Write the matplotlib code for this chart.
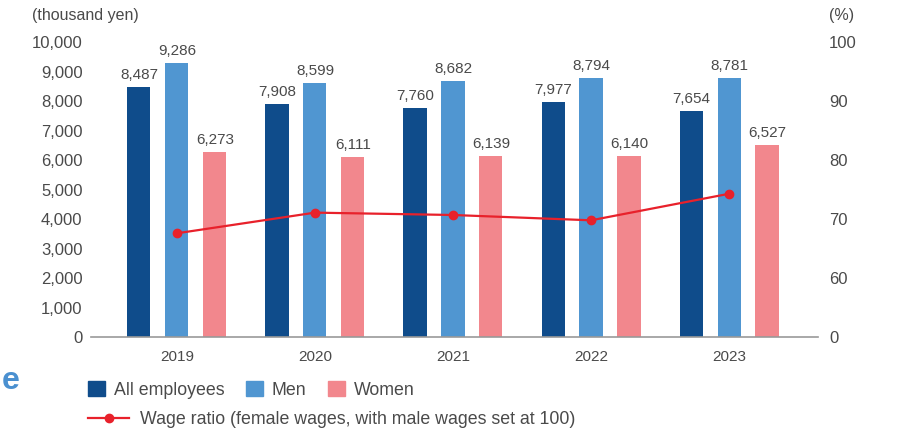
import matplotlib
matplotlib.use("Agg")
import matplotlib.pyplot as plt
from matplotlib.patches import Patch
from matplotlib.lines import Line2D
import numpy as np

years = ["2019", "2020", "2021", "2022", "2023"]
all_emp = [8487, 7908, 7760, 7977, 7654]
men = [9286, 8599, 8682, 8794, 8781]
women = [6273, 6111, 6139, 6140, 6527]
ratio = [67.6, 71.1, 70.7, 69.8, 74.3]
left_ticks = [0, 1000, 2000, 3000, 4000, 5000, 6000, 7000, 8000, 9000, 10000]
right_ticks = [50, 60, 70, 80, 90, 100]
right_labels = ["0", "60", "70", "80", "90", "100"]

c_all = "#0f4c8b"
c_men = "#5096d1"
c_women = "#f2878d"
c_line = "#e8212b"
txt = "#4a4a4a"

plt.rcParams['font.family'] = ['Liberation Sans', 'DejaVu Sans']

fig = plt.figure(figsize=(9, 4.3), dpi=100)
ax = fig.add_axes([0.101, 0.216, 0.808, 0.686])
x = np.arange(len(years))
w = 0.167
off = 0.275
series = [(all_emp, c_all, -off), (men, c_men, 0), (women, c_women, off)]
for vals, col, o in series:
    bars = ax.bar(x + o, vals, width=w, color=col, zorder=2)
    for b, v in zip(bars, vals):
        ax.text(b.get_x() + b.get_width() / 2, v + 170, f"{v:,}", ha="center", va="bottom",
                fontsize=11, color=txt)

ax.set_xlim(-0.623, 4.645)
ax.set_ylim(0, 10000)
ax.set_yticks(left_ticks)
ax.set_yticklabels([f"{t:,}" for t in left_ticks])
ax.set_xticks(x)
ax.set_xticklabels(years)
for s in ["left", "right", "top"]:
    ax.spines[s].set_visible(False)
ax.spines["bottom"].set_color("#999999")
ax.spines["bottom"].set_linewidth(1.2)
ax.tick_params(axis="both", length=0, labelsize=12, colors=txt)
ax.tick_params(axis="x", pad=9, labelsize=11)
ax.tick_params(axis="y", pad=6)

ax2 = ax.twinx()
ax2.set_ylim(50, 100)
ax2.set_yticks(right_ticks)
ax2.set_yticklabels(right_labels)
ax2.tick_params(axis="y", length=0, labelsize=12, colors=txt, pad=8)
for s in ax2.spines.values():
    s.set_visible(False)
ax2.plot(x, ratio, color=c_line, lw=1.6, marker="o", ms=6, zorder=5)

fig.text(0.036, 0.963, "(thousand yen)", fontsize=11.5, color=txt, va="center")
fig.text(0.921, 0.963, "(%)", fontsize=11.5, color=txt, va="center")
fig.text(0.002, 0.113, "e", fontsize=23, color="#4a90d0", va="center", fontweight="bold")

handles1 = [Patch(color=c_all, label="All employees"),
            Patch(color=c_men, label="Men"),
            Patch(color=c_women, label="Women")]
leg1 = fig.legend(handles=handles1, loc="center left", bbox_to_anchor=(0.098, 0.094), ncol=3,
                  frameon=False, fontsize=12.8, handlelength=0.95, handleheight=1.0,
                  handletextpad=0.5, columnspacing=1.2, borderaxespad=0, borderpad=0)
for t in leg1.get_texts():
    t.set_color(txt)
handles2 = [Line2D([0], [0], color=c_line, lw=1.6, marker="o", ms=6,
                   label="Wage ratio (female wages, with male wages set at 100)")]
leg2 = fig.legend(handles=handles2, loc="center left", bbox_to_anchor=(0.098, 0.024),
                  frameon=False, fontsize=12.8, handlelength=2.3, handletextpad=0.6,
                  borderaxespad=0, borderpad=0)
for t in leg2.get_texts():
    t.set_color(txt)

fig.savefig("out.png", dpi=100)
